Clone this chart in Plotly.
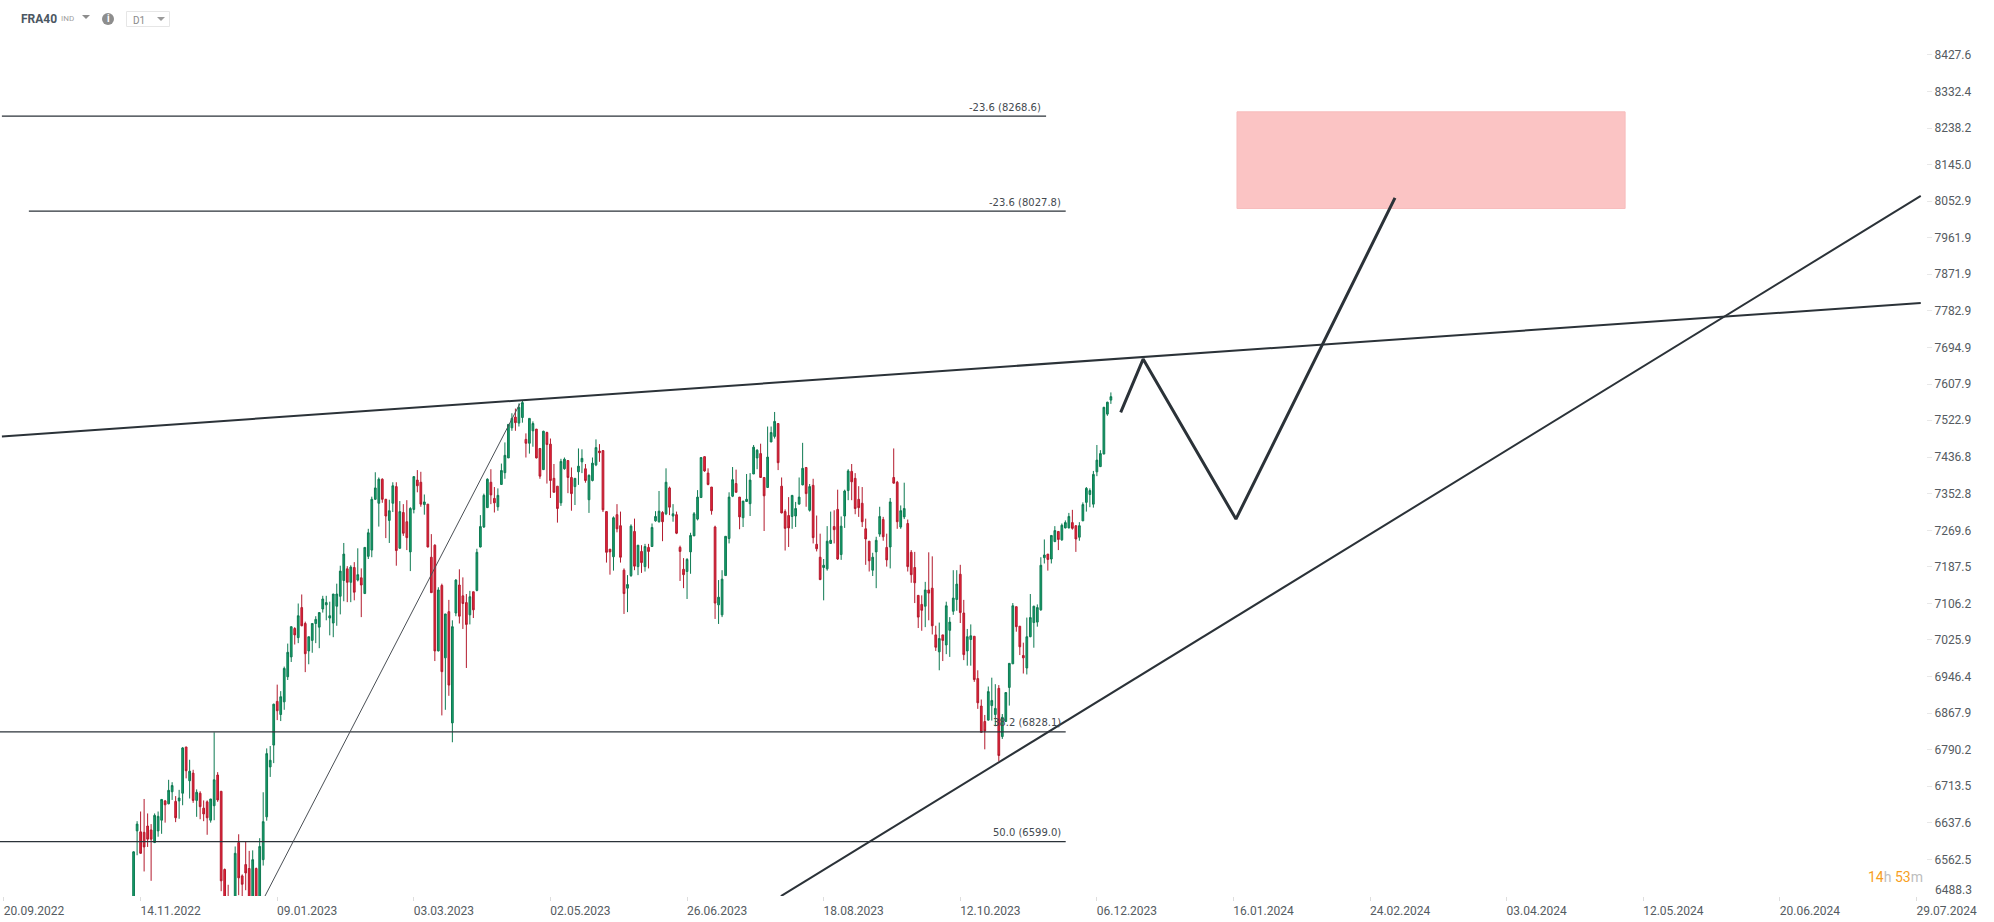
import math
import plotly.graph_objects as go

# bar number 0 = 20.09.2022, one label every 39 bars
bars = list(range(37, 317))

opens = [
    6460, 6621, 6619, 6618, 6631, 6623, 6597, 6621, 6643, 6683,
    6677, 6702, 6682, 6683, 6699, 6796, 6725, 6741, 6684, 6699,
    6668, 6681, 6643, 6673, 6737, 6703, 6542, 6480, 6465, 6470,
    6597, 6529, 6552, 6544, 6470, 6544, 6470, 6562, 6650, 6754,
    6800, 6893, 6865, 6892, 6946, 6989, 7051, 7031, 7097, 7062,
    7002, 7025, 7062, 7054, 7094, 7103, 7074, 7063, 7100, 7122,
    7157, 7183, 7153, 7186, 7158, 7163, 7128, 7211, 7225, 7340,
    7331, 7386, 7340, 7292, 7331, 7369, 7229, 7310, 7289, 7221,
    7317, 7384, 7379, 7328, 7329, 7209, 7236, 7002, 7146, 6987,
    7088, 6847, 7085, 7147, 7123, 7108, 7081, 7132, 7135, 7232,
    7277, 7321, 7379, 7342, 7323, 7374, 7401, 7435, 7505, 7530,
    7516, 7529, 7478, 7469, 7498, 7502, 7457, 7408, 7494, 7467,
    7388, 7370, 7332, 7410, 7429, 7390, 7369, 7403, 7426, 7410,
    7339, 7383, 7419, 7451, 7452, 7312, 7227, 7210, 7305, 7280,
    7180, 7140, 7168, 7267, 7188, 7222, 7188, 7231, 7233, 7291,
    7289, 7310, 7307, 7366, 7302, 7305, 7231, 7182, 7177, 7221,
    7257, 7295, 7344, 7438, 7400, 7368, 7277, 7103, 7081, 7168,
    7251, 7347, 7376, 7345, 7298, 7335, 7330, 7398, 7435, 7445,
    7390, 7367, 7472, 7485, 7515, 7370, 7312, 7303, 7301, 7302,
    7329, 7373, 7413, 7315, 7372, 7238, 7209, 7186, 7183, 7240,
    7278, 7317, 7215, 7302, 7360, 7404, 7388, 7340, 7331, 7273,
    7245, 7180, 7221, 7261, 7294, 7231, 7232, 7390, 7379, 7277,
    7300, 7285, 7220, 7186, 7124, 7104, 7100, 7136, 7140, 7037,
    7000, 7037, 7015, 7047, 7089, 7115, 7171, 7085, 7002, 7027,
    7034, 6942, 6883, 6850, 6853, 6884, 6865, 6921, 6818, 6850,
    6923, 6974, 7099, 7056, 6992, 6965, 7033, 7064, 7065, 7092,
    7208, 7216, 7205, 7244, 7267, 7248, 7275, 7275, 7287, 7280,
    7254, 7291, 7333, 7351, 7329, 7403, 7415, 7444, 7537, 7570,
]
highs = [
    6579, 6641, 6661, 6687, 6657, 6635, 6657, 6661, 6687, 6685,
    6727, 6722, 6693, 6706, 6796, 6796, 6769, 6748, 6707, 6703,
    6684, 6684, 6687, 6827, 6743, 6703, 6544, 6511, 6480, 6589,
    6614, 6532, 6599, 6580, 6581, 6546, 6606, 6701, 6793, 6798,
    6888, 6929, 6915, 6968, 7018, 7055, 7054, 7106, 7126, 7066,
    7033, 7062, 7078, 7086, 7123, 7123, 7110, 7127, 7150, 7190,
    7241, 7189, 7191, 7198, 7229, 7184, 7231, 7273, 7346, 7402,
    7390, 7388, 7341, 7339, 7379, 7379, 7336, 7329, 7338, 7322,
    7392, 7407, 7403, 7351, 7329, 7261, 7238, 7142, 7150, 7083,
    7114, 7069, 7160, 7182, 7164, 7127, 7134, 7132, 7228, 7304,
    7353, 7388, 7409, 7368, 7365, 7422, 7471, 7513, 7539, 7550,
    7562, 7568, 7492, 7527, 7520, 7502, 7457, 7498, 7496, 7480,
    7421, 7370, 7433, 7436, 7429, 7413, 7388, 7457, 7455, 7421,
    7397, 7436, 7478, 7467, 7452, 7312, 7227, 7301, 7329, 7312,
    7184, 7169, 7283, 7296, 7236, 7236, 7239, 7239, 7285, 7313,
    7359, 7313, 7411, 7369, 7329, 7312, 7235, 7207, 7207, 7264,
    7311, 7361, 7436, 7438, 7411, 7368, 7280, 7158, 7180, 7256,
    7356, 7414, 7408, 7345, 7336, 7398, 7400, 7465, 7455, 7468,
    7390, 7508, 7508, 7542, 7515, 7390, 7317, 7345, 7349, 7334,
    7390, 7470, 7413, 7375, 7387, 7303, 7262, 7205, 7279, 7312,
    7315, 7362, 7301, 7362, 7409, 7421, 7400, 7370, 7368, 7296,
    7245, 7219, 7255, 7323, 7300, 7262, 7343, 7457, 7382, 7326,
    7378, 7294, 7225, 7221, 7124, 7124, 7154, 7220, 7211, 7057,
    7064, 7037, 7110, 7076, 7180, 7180, 7192, 7114, 7050, 7060,
    7034, 6960, 6897, 6864, 6925, 6944, 6930, 6928, 6866, 6913,
    6975, 7107, 7099, 7056, 7020, 7075, 7127, 7101, 7104, 7209,
    7249, 7216, 7258, 7279, 7267, 7285, 7292, 7309, 7316, 7280,
    7288, 7333, 7368, 7365, 7405, 7465, 7453, 7554, 7566, 7588,
]
lows = [
    6455, 6571, 6574, 6538, 6588, 6519, 6596, 6609, 6615, 6638,
    6676, 6685, 6639, 6646, 6674, 6730, 6688, 6679, 6650, 6645,
    6641, 6613, 6638, 6643, 6681, 6498, 6460, 6450, 6450, 6460,
    6490, 6480, 6500, 6470, 6460, 6465, 6460, 6550, 6642, 6733,
    6762, 6853, 6851, 6875, 6939, 6978, 7016, 7019, 7056, 6956,
    6973, 6998, 7019, 7008, 7086, 7069, 7036, 7032, 7057, 7082,
    7111, 7109, 7109, 7113, 7155, 7076, 7128, 7205, 7209, 7339,
    7278, 7332, 7252, 7241, 7311, 7190, 7229, 7257, 7225, 7178,
    7308, 7356, 7323, 7305, 7231, 7130, 6980, 7001, 6863, 6875,
    6905, 6806, 7078, 7062, 7050, 6965, 7060, 7074, 7133, 7231,
    7275, 7321, 7329, 7310, 7314, 7373, 7387, 7435, 7498, 7498,
    7508, 7517, 7436, 7445, 7461, 7434, 7387, 7408, 7376, 7343,
    7356, 7287, 7325, 7408, 7354, 7314, 7327, 7373, 7400, 7378,
    7309, 7381, 7416, 7426, 7311, 7197, 7170, 7179, 7265, 7197,
    7083, 7087, 7165, 7180, 7169, 7174, 7177, 7184, 7232, 7289,
    7287, 7245, 7304, 7304, 7289, 7261, 7156, 7140, 7116, 7172,
    7257, 7292, 7344, 7403, 7372, 7305, 7072, 7061, 7076, 7168,
    7240, 7345, 7356, 7272, 7277, 7335, 7302, 7398, 7409, 7390,
    7268, 7366, 7472, 7480, 7407, 7308, 7224, 7232, 7273, 7277,
    7329, 7372, 7323, 7312, 7240, 7222, 7158, 7113, 7179, 7239,
    7240, 7203, 7203, 7275, 7338, 7338, 7306, 7300, 7277, 7192,
    7177, 7167, 7140, 7255, 7246, 7188, 7184, 7376, 7273, 7273,
    7295, 7177, 7152, 7107, 7052, 7046, 7054, 7069, 7038, 7002,
    6960, 6980, 6995, 6989, 7081, 7090, 7063, 6982, 6970, 6970,
    6935, 6877, 6827, 6791, 6852, 6852, 6840, 6766, 6813, 6850,
    6884, 6974, 7044, 6993, 6953, 6951, 7032, 7009, 7055, 7090,
    7195, 7179, 7195, 7244, 7225, 7246, 7274, 7274, 7271, 7221,
    7246, 7291, 7312, 7322, 7321, 7393, 7414, 7444, 7533, 7561,
]
closes = [
    6578, 6635, 6575, 6588, 6604, 6604, 6653, 6651, 6686, 6675,
    6705, 6715, 6648, 6689, 6794, 6746, 6745, 6684, 6701, 6671,
    6656, 6648, 6687, 6727, 6685, 6519, 6470, 6460, 6470, 6575,
    6525, 6512, 6535, 6480, 6562, 6475, 6589, 6640, 6782, 6768,
    6887, 6873, 6903, 6964, 6999, 7055, 7037, 7079, 7057, 6996,
    7033, 7062, 7071, 7086, 7116, 7108, 7079, 7127, 7127, 7178,
    7216, 7153, 7187, 7131, 7170, 7147, 7231, 7264, 7340, 7366,
    7386, 7340, 7302, 7314, 7371, 7224, 7312, 7263, 7253, 7319,
    7392, 7371, 7329, 7334, 7232, 7130, 7002, 7136, 6957, 7083,
    6928, 7055, 7158, 7078, 7106, 7060, 7121, 7092, 7220, 7278,
    7349, 7386, 7350, 7332, 7349, 7406, 7441, 7513, 7527, 7517,
    7553, 7564, 7469, 7527, 7515, 7435, 7393, 7497, 7466, 7383,
    7356, 7319, 7427, 7432, 7390, 7353, 7388, 7416, 7434, 7383,
    7395, 7423, 7459, 7447, 7316, 7220, 7221, 7298, 7273, 7209,
    7128, 7148, 7279, 7189, 7236, 7197, 7233, 7222, 7276, 7301,
    7313, 7289, 7379, 7322, 7307, 7263, 7222, 7170, 7204, 7258,
    7307, 7345, 7436, 7405, 7374, 7314, 7107, 7120, 7160, 7256,
    7345, 7385, 7356, 7300, 7336, 7340, 7384, 7460, 7453, 7390,
    7348, 7437, 7494, 7520, 7424, 7309, 7274, 7275, 7349, 7319,
    7345, 7411, 7353, 7369, 7253, 7228, 7159, 7191, 7245, 7247,
    7271, 7205, 7279, 7359, 7405, 7380, 7319, 7321, 7289, 7250,
    7201, 7209, 7247, 7301, 7255, 7203, 7334, 7377, 7289, 7314,
    7319, 7188, 7170, 7152, 7076, 7091, 7136, 7129, 7057, 7010,
    7029, 7025, 7101, 7065, 7118, 7149, 7086, 6994, 7033, 7035,
    6940, 6890, 6827, 6830, 6914, 6895, 6878, 6778, 6859, 6912,
    6975, 7101, 7055, 7011, 6987, 7033, 7075, 7100, 7097, 7191,
    7214, 7204, 7258, 7269, 7249, 7281, 7287, 7301, 7274, 7250,
    7280, 7328, 7365, 7360, 7397, 7430, 7445, 7553, 7565, 7578,
]

date_bars = [0, 39, 78, 117, 156, 195, 234, 273, 312, 351, 390, 429, 468, 507, 546]
date_labels = ["20.09.2022", "14.11.2022", "09.01.2023", "03.03.2023", "02.05.2023",
               "26.06.2023", "18.08.2023", "12.10.2023", "06.12.2023", "16.01.2024",
               "24.02.2024", "03.04.2024", "12.05.2024", "20.06.2024", "29.07.2024"]

price_ticks = [8427.6, 8332.4, 8238.2, 8145.0, 8052.9, 7961.9, 7871.9, 7782.9, 7694.9, 7607.9, 7522.9,
               7436.8, 7352.8, 7269.6, 7187.5, 7106.2, 7025.9, 6946.4, 6867.9, 6790.2, 6713.5, 6637.6, 6562.5]

# fibo levels
fib_levels = [8268.6, 8027.8, 6828.1, 6599.0]
fib_start = [-0.6, 7.1, -1.2, -1.2]
fib_end = [297.5, 303.1, 303.1, 303.1]
fib_text = ["-23.6 (8268.6)", "-23.6 (8027.8)", "38.2 (6828.1)", "50.0 (6599.0)"]

# drawn lines
resist_x = [-0.6, 547.2]
resist_y = [7485, 7802]
support_x = [221.8, 547.2]
support_y = [6488, 8066]
swing_x = [74.5, 147.3]
swing_y = [6488, 7562]
path_x = [318.8, 325.2, 351.7, 397.1]
path_y = [7541, 7667, 7295, 8061]
target_x = [352.0, 462.8, 462.8, 352.0, 352.0]
target_y = [8034.5, 8034.5, 8279.7, 8279.7, 8034.5]

W = 1994
H = 922
PLOT_W = 1926
PLOT_H = 895
TOP = 1
INK = "#2b3238"


def px(x):
    return x / PLOT_W


def py(y):
    return 1 - (y - TOP) / PLOT_H


fig = go.Figure()

# target zone goes under everything
fig.add_trace(go.Scatter(x=target_x, y=target_y, mode="lines", fill="toself",
                         fillcolor="#fbc4c4", line=dict(color="#f7bcbc", width=1)))

fig.add_trace(go.Candlestick(
    x=bars, open=opens, high=highs, low=lows, close=closes,
    whiskerwidth=0,
    increasing=dict(fillcolor="#14a06c", line=dict(color="#0e7a52", width=1)),
    decreasing=dict(fillcolor="#e8233a", line=dict(color="#b31a2d", width=1)),
))

for x0, x1, level in zip(fib_start, fib_end, fib_levels):
    fig.add_trace(go.Scatter(x=[x0, x1], y=[level, level], mode="lines",
                             line=dict(color=INK, width=1.3)))

fig.add_trace(go.Scatter(x=swing_x, y=swing_y, mode="lines", line=dict(color="#4a4f55", width=1)))
fig.add_trace(go.Scatter(x=resist_x, y=resist_y, mode="lines", line=dict(color=INK, width=2)))
fig.add_trace(go.Scatter(x=support_x, y=support_y, mode="lines", line=dict(color=INK, width=2)))
fig.add_trace(go.Scatter(x=path_x, y=path_y, mode="lines", line=dict(color=INK, width=3)))

annotations = []
for x1, level, text in zip(fib_end, fib_levels, fib_text):
    annotations.append(dict(x=x1, y=math.log10(level), xref="x", yref="y", text=text, showarrow=False,
                            xanchor="right", yanchor="middle", xshift=-3, yshift=9,
                            font=dict(family="DejaVu Sans", size=10, color="#444a50")))


def label(x, y, text, size, color, family="Roboto", anchor="left"):
    annotations.append(dict(x=px(x), y=py(y), xref="paper", yref="paper", text=text, showarrow=False,
                            xanchor=anchor, yanchor="middle", font=dict(family=family, size=size, color=color)))


label(19, 19, "<b>FRA40</b>", 12, "#4b5762")
label(59, 19, "IND", 8, "#a0a0a0")
label(108, 19, "<b>i</b>", 10, "#ffffff", anchor="center")
label(131, 20, "D1", 10, "#8a8a8a")
label(1933, 890, "6488.3", 12, "#555b61")
label(1925, 877, '<span style="color:#f7a01f">14</span>h <span style="color:#f7a01f">53</span>m',
      14, "#bdbdbd", anchor="right")

shapes = [
    dict(type="path", xref="paper", yref="paper", fillcolor="#8d8d8d", line=dict(width=0),
         path=f"M{px(82)},{py(15)} L{px(90)},{py(15)} L{px(86)},{py(19)} Z"),
    dict(type="circle", xref="paper", yref="paper", fillcolor="#8d8d8d", line=dict(width=0),
         x0=px(102), x1=px(114), y0=py(25), y1=py(13)),
    dict(type="rect", xref="paper", yref="paper", fillcolor="rgba(0,0,0,0)", line=dict(color="#e6e6e6", width=1),
         x0=px(126.5), x1=px(169.5), y0=py(26.5), y1=py(11.5)),
    dict(type="path", xref="paper", yref="paper", fillcolor="#9a9a9a", line=dict(width=0),
         path=f"M{px(157)},{py(17)} L{px(165)},{py(17)} L{px(161)},{py(21)} Z"),
]

fig.update_layout(
    width=W, height=H,
    margin=dict(l=0, r=W - PLOT_W, t=TOP, b=H - PLOT_H - TOP),
    paper_bgcolor="white", plot_bgcolor="white",
    showlegend=False,
    annotations=annotations,
    shapes=shapes,
    xaxis=dict(
        range=[-1.14, 548.7], rangeslider=dict(visible=False),
        showgrid=False, zeroline=False, showline=False,
        tickmode="array", tickvals=date_bars, ticktext=date_labels,
        ticks="outside", ticklen=4, tickcolor="#dedede", tickwidth=1, ticklabelshift=30,
        tickfont=dict(family="Roboto", size=12, color="#555b61"),
    ),
    yaxis=dict(
        type="log", side="right", range=[math.log10(6488.3), math.log10(8570)],
        showgrid=False, zeroline=False, showline=False,
        tickmode="array", tickvals=price_ticks, ticktext=[f"{p:.1f}" for p in price_ticks],
        ticks="outside", ticklen=5, tickcolor="#e8e8e8", tickwidth=1,
        tickfont=dict(family="Roboto", size=12, color="#555b61"),
    ),
)

fig.write_html("out.html", config={"displayModeBar": False},
               post_script="document.body.style.margin='0';")
